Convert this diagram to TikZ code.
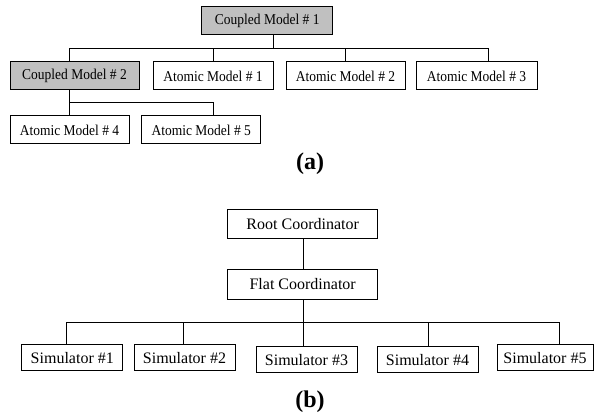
\documentclass[tikz,border=0pt]{standalone}
\usepackage{fontspec}
\setmainfont{Liberation Serif}
\newfontfamily\modelfont[FakeStretch=0.9]{Liberation Serif}
\definecolor{coupledGray}{RGB}{192,192,192}
\tikzset{
  modelbox/.style={draw,line width=1pt,minimum height=28pt,inner sep=0pt,
                   font=\modelfont\fontsize{15}{15}\selectfont},
  coupledbox/.style={modelbox,fill=coupledGray},
  simbox/.style={draw,line width=1pt,minimum height=26pt,inner sep=0pt,
                 font=\fontsize{16}{16}\selectfont},
  link/.style={line width=0.8pt},
  caption/.style={font=\bfseries\fontsize{24}{24}\selectfont}
}

\begin{document}
\begin{tikzpicture}[x=1pt,y=-1pt]
\useasboundingbox (0,0) rectangle (595,419);

\node[coupledbox,minimum width=131pt] (cm1) at (267.3,21) {Coupled Model \# 1};
\node[coupledbox,minimum width=129pt] (cm2) at (74.5,76) {Coupled Model \# 2};
\foreach \x/\w [count=\i] in {213/120,345.5/119,476.5/121}
  \node[modelbox,minimum width=\w pt] (am\i) at (\x,76) {Atomic Model \# \i};
\node[modelbox,minimum width=119pt] (am4) at (69.5,130) {Atomic Model \# 4};
\node[modelbox,minimum width=119pt] (am5) at (201.3,130) {Atomic Model \# 5};

\coordinate (stemA) at (273,48.3);
\coordinate (busL) at (69.3,48.3);
\coordinate (busR) at (488.4,48.3);
\draw[link] (stemA |- cm1.south) -- (stemA);
\draw[link] (busL |- cm2.north) -- (busL) -- (busR) -- (busR |- am3.north);
\foreach \t/\b in {213/am1,345.3/am2}
  \draw[link] (\t,48.3) coordinate (tap\b) -- (tap\b |- \b.north);

\coordinate (subL) at (69.3,102.3);
\coordinate (subR) at (213,102.3);
\draw[link] (subL |- cm2.south) -- (subL |- am4.north);
\draw[link] (subL) -- (subR) -- (subR |- am5.north);

\node[caption] (capA) at (310,164) {(a)};

\node[simbox,minimum width=150pt,minimum height=29pt] (root) at (302.7,224) {Root Coordinator};
\node[simbox,minimum width=150pt,minimum height=30pt] (flat) at (302.7,284.3) {Flat Coordinator};
\foreach \x/\y/\w [count=\i] in {72.3/357.8/101,184.5/358/101,306.5/359.7/101,427.5/359.7/101,545/357.8/96}
  \node[simbox,minimum width=\w pt] (sim\i) at (\x,\y) {Simulator \#\i};

\coordinate (stemB) at (303.6,322.5);
\draw[link] (stemB |- root.south) -- (stemB |- flat.north);
\draw[link] (stemB |- flat.south) -- (stemB);
\foreach \t [count=\i] in {66.4,183.5,303.6,428.8,559}
  \draw[link] (\t,322.5) coordinate (bus\i) -- (bus\i |- sim\i.north);
\draw[link] (bus1) -- (bus5);

\node[caption] (capB) at (310,402) {(b)};
\end{tikzpicture}
\end{document}
